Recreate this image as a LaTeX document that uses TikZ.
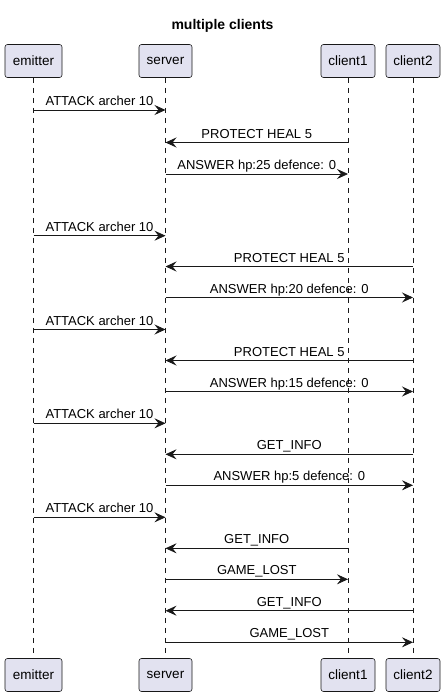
\documentclass[tikz,border=0pt]{standalone}
\usepackage{fontspec}
\setmainfont{Liberation Sans}
\usetikzlibrary{arrows.meta}
\definecolor{pfill}{HTML}{E2E2F0}
\definecolor{pline}{HTML}{181818}
\tikzset{
  part/.style={draw=pline, fill=pfill, rounded corners=2.5pt, line width=0.6pt,
    minimum height=33pt, inner sep=0pt, font=\fontsize{13.5}{15}\selectfont, text=black},
  life/.style={draw=pline, line width=0.5pt, dash pattern=on 5pt off 5pt},
  msg/.style={draw=pline, line width=0.8pt, -{Stealth[length=11pt,width=10pt,inset=4pt]}},
  lbl/.style={anchor=base, font=\fontsize{13}{15}\selectfont, text=black, inner sep=0pt}
}
\begin{document}
\begin{tikzpicture}[x=1pt,y=-1pt]
\useasboundingbox (0,0) rectangle (445,696);
\node[anchor=base, inner sep=0pt, font=\bfseries\fontsize{14}{16}\selectfont] (title) at (222.5,29.5) {multiple clients};
% top participants
\node[part, minimum width=57pt] (e1) at (33.5,61) {emitter};
\node[part, minimum width=53pt] (s1) at (165.5,61) {server};
\node[part, minimum width=54pt] (c1) at (348,61) {client1};
\node[part, minimum width=54pt] (d1) at (413,61) {client2};
% bottom participants
\node[part, minimum width=57pt] (e2) at (33.5,675) {emitter};
\node[part, minimum width=53pt] (s2) at (165.5,675) {server};
\node[part, minimum width=54pt] (c2) at (348,675) {client1};
\node[part, minimum width=54pt] (d2) at (413,675) {client2};
% lifelines
\draw[life] (e1.south) -- (e2.north);
\draw[life] (s1.south) -- (s2.north);
\draw[life] (c1.south) -- (c2.north);
\draw[life] (d1.south) -- (d2.north);
% messages
\newcommand{\mymsg}[4]{%
  \draw[msg] (#1 |- {0,#3}) -- (#2 |- {0,#3})
    node[lbl, pos=0.5, yshift=4.5pt] {#4};}
\mymsg{e1}{s1}{110}{ATTACK archer 10}
\mymsg{c1}{s1}{142.5}{PROTECT HEAL 5}
\mymsg{s1}{c1}{174}{ANSWER hp:25 defence: 0}
\mymsg{e1}{s1}{235.7}{ATTACK archer 10}
\mymsg{d1}{s1}{266.5}{PROTECT HEAL 5}
\mymsg{s1}{d1}{297.5}{ANSWER hp:20 defence: 0}
\mymsg{e1}{s1}{329.5}{ATTACK archer 10}
\mymsg{d1}{s1}{360.5}{PROTECT HEAL 5}
\mymsg{s1}{d1}{391.5}{ANSWER hp:15 defence: 0}
\mymsg{e1}{s1}{423.3}{ATTACK archer 10}
\mymsg{d1}{s1}{454.3}{GET\_INFO}
\mymsg{s1}{d1}{485.3}{ANSWER hp:5 defence: 0}
\mymsg{e1}{s1}{517.3}{ATTACK archer 10}
\mymsg{c1}{s1}{548.3}{GET\_INFO}
\mymsg{s1}{c1}{579.3}{GAME\_LOST}
\mymsg{d1}{s1}{610.7}{GET\_INFO}
\mymsg{s1}{d1}{642.3}{GAME\_LOST}
\end{tikzpicture}
\end{document}
